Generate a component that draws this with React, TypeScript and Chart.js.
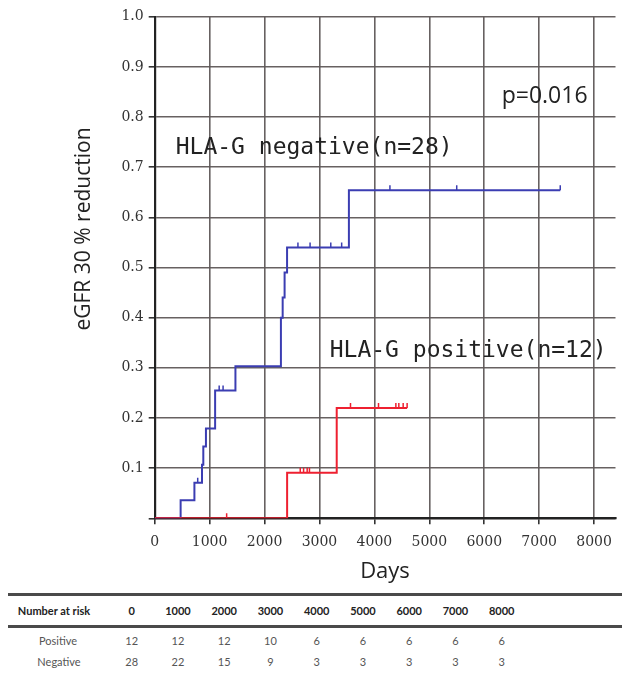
import React, { useEffect, useRef } from 'react';
import { Chart, registerables } from 'chart.js';

Chart.register(...registerables);

// ---------- data ----------
const xTickValues = [0, 1000, 2000, 3000, 4000, 5000, 6000, 7000, 8000];
const yTickValues = [0, 0.1, 0.2, 0.3, 0.4, 0.5, 0.6, 0.7, 0.8, 0.9, 1.0];

// HLA-G negative (n=28): Kaplan-Meier cumulative incidence steps
const negTimes = [0, 472, 723, 861, 885, 933, 1100, 1470, 2298, 2330, 2365, 2410, 3536, 7384];
const negValues = [0, 0.036, 0.071, 0.107, 0.143, 0.179, 0.255, 0.303, 0.40, 0.44, 0.49, 0.54, 0.654, 0.654];
const negCensorTimes = [783, 1174, 1245, 2608, 2829, 3206, 3404, 4283, 5499, 7384];
const negCensorValues = [0.071, 0.255, 0.255, 0.54, 0.54, 0.54, 0.54, 0.654, 0.654, 0.654];

// HLA-G positive (n=12)
const posTimes = [0, 2411, 3314, 4596];
const posValues = [0, 0.0909, 0.22, 0.22];
const posCensorTimes = [1310, 2650, 2711, 2776, 2818, 3565, 4075, 4391, 4445, 4524, 4596];
const posCensorValues = [0, 0.0909, 0.0909, 0.0909, 0.0909, 0.22, 0.22, 0.22, 0.22, 0.22, 0.22];

const negLabel = 'HLA-G negative(n=28)';
const posLabel = 'HLA-G positive(n=12)';
const pValueLabel = 'p=0.016';
const xTitle = 'Days';
const yTitle = 'eGFR 30 % reduction';

// Number at risk table
const riskHeaderLabel = 'Number at risk';
const riskTimes = ['0', '1000', '2000', '3000', '4000', '5000', '6000', '7000', '8000'];
const riskPositive = [12, 12, 12, 10, 6, 6, 6, 6, 6];
const riskNegative = [28, 22, 15, 9, 3, 3, 3, 3, 3];
const riskRowLabels = ['Positive', 'Negative'];

// ---------- styles ----------
const BLUE = '#3b3db2';
const RED = '#ee2030';
const GRID = 'rgba(95,88,88,0.95)';

const textPlugin = {
  id: 'kmTexts',
  afterDraw(chart: any) {
    const { ctx, chartArea } = chart;
    const L = chartArea.left;
    const T = chartArea.top;
    ctx.save();
    ctx.fillStyle = '#222';
    ctx.textBaseline = 'alphabetic';
    ctx.textAlign = 'left';
    ctx.font = '23px "Open Sans"';
    ctx.fillText(pValueLabel, L + 347, T + 86);
    ctx.font = '23px "DejaVu Sans Mono"';
    ctx.fillText(negLabel, L + 21, T + 137);
    ctx.fillText(posLabel, L + 175, T + 340);
    ctx.font = '22px "Open Sans"';
    ctx.textAlign = 'center';
    ctx.fillText(xTitle, 385, chartArea.bottom + 60);
    ctx.translate(90, 229);
    ctx.rotate(-Math.PI / 2);
    ctx.font = '21px "Open Sans"';
    ctx.fillText(yTitle, 0, 0);
    ctx.restore();
  },
};

const colX = (i: number) => 131.7 + i * 46.25;

export default function App() {
  const ref = useRef<HTMLCanvasElement>(null);

  useEffect(() => {
    const toPts = (xs: number[], ys: number[]) => xs.map((x, i) => ({ x, y: ys[i] }));
    const chart = new Chart(ref.current as HTMLCanvasElement, {
      type: 'line',
      data: {
        datasets: [
          {
            label: 'positive',
            data: toPts(posTimes, posValues),
            stepped: true,
            borderColor: RED,
            borderWidth: 2,
            pointRadius: 0,
            fill: false,
            order: 0,
          },
          {
            label: 'positive censored',
            data: toPts(posCensorTimes, posCensorValues),
            showLine: false,
            pointStyle: 'dash',
            pointRotation: -90,
            pointRadius: 5,
            pointBorderColor: RED,
            pointBorderWidth: 1.5,
            order: 0,
          },
          {
            label: 'negative',
            data: toPts(negTimes, negValues),
            stepped: true,
            borderColor: BLUE,
            borderWidth: 2,
            pointRadius: 0,
            fill: false,
            order: 1,
          },
          {
            label: 'negative censored',
            data: toPts(negCensorTimes, negCensorValues),
            showLine: false,
            pointStyle: 'dash',
            pointRotation: -90,
            pointRadius: 5,
            pointBorderColor: BLUE,
            pointBorderWidth: 1.5,
            order: 1,
          },
        ] as any,
      },
      options: {
        animation: false,
        responsive: true,
        maintainAspectRatio: false,
        layout: { padding: { left: 0, top: 16.7, right: 0, bottom: 0 } },
        plugins: { legend: { display: false }, tooltip: { enabled: false } },
        scales: {
          x: {
            type: 'linear',
            min: 0,
            max: 8390,
            afterBuildTicks: (a: any) => {
              a.ticks = xTickValues.map((v) => ({ value: v }));
            },
            afterFit: (a: any) => {
              a.height = 71.7;
              a.paddingRight = 0;
              a.paddingLeft = 0;
            },
            grid: { color: GRID, lineWidth: 1.6, tickLength: 6, tickColor: '#333', drawTicks: true },
            border: { display: true, color: '#222', width: 2.2 },
            ticks: {
              font: { family: 'DejaVu Serif', size: 14 },
              color: '#333',
              padding: 10,
              maxRotation: 0,
              autoSkip: false,
              callback: (v: any) => String(v),
            },
          },
          y: {
            type: 'linear',
            min: 0,
            max: 1,
            afterBuildTicks: (a: any) => {
              a.ticks = yTickValues.map((v) => ({ value: v }));
            },
            afterFit: (a: any) => {
              a.width = 154.7;
            },
            grid: { color: GRID, lineWidth: 1.6, tickLength: 6, tickColor: '#333', drawTicks: true },
            border: { display: true, color: '#222', width: 2.2 },
            ticks: {
              font: { family: 'DejaVu Serif', size: 14 },
              color: '#333',
              padding: 5,
              autoSkip: false,
              callback: (v: any) => (Number(v) === 0 ? '' : Number(v).toFixed(1)),
            },
          },
        },
      },
      plugins: [textPlugin],
    } as any);
    (document as any).fonts?.ready?.then(() => chart.update());
    return () => chart.destroy();
  }, []);

  const headStyle: React.CSSProperties = {
    position: 'absolute',
    top: 610,
    transform: 'translate(-50%, -50%)',
    font: 'bold 11px Lato',
    color: '#222',
    whiteSpace: 'nowrap',
  };
  const cellStyle = (top: number): React.CSSProperties => ({
    position: 'absolute',
    top,
    transform: 'translate(-50%, -50%)',
    font: '11px Lato',
    color: '#555',
    whiteSpace: 'nowrap',
  });

  return (
    <div style={{ position: 'absolute', left: 0, top: 0, width: 622, height: 678, background: '#fff', overflow: 'hidden' }}>
      <div style={{ position: 'absolute', left: 0, top: 0, width: 622, height: 590 }}>
        <canvas ref={ref} />
      </div>
      <div style={{ position: 'absolute', left: 8, right: 0, top: 593, height: 3, background: '#4a4a4a' }} />
      <div style={{ position: 'absolute', left: 8, right: 0, top: 625, height: 3, background: '#4a4a4a' }} />
      <span style={{ ...headStyle, left: 54 }}>{riskHeaderLabel}</span>
      {riskTimes.map((t, i) => (
        <span key={'h' + i} style={{ ...headStyle, left: colX(i) }}>{t}</span>
      ))}
      <span style={{ ...cellStyle(640), left: 58 }}>{riskRowLabels[0]}</span>
      {riskPositive.map((v, i) => (
        <span key={'p' + i} style={{ ...cellStyle(640), left: colX(i) }}>{v}</span>
      ))}
      <span style={{ ...cellStyle(661), left: 59 }}>{riskRowLabels[1]}</span>
      {riskNegative.map((v, i) => (
        <span key={'n' + i} style={{ ...cellStyle(661), left: colX(i) }}>{v}</span>
      ))}
    </div>
  );
}
